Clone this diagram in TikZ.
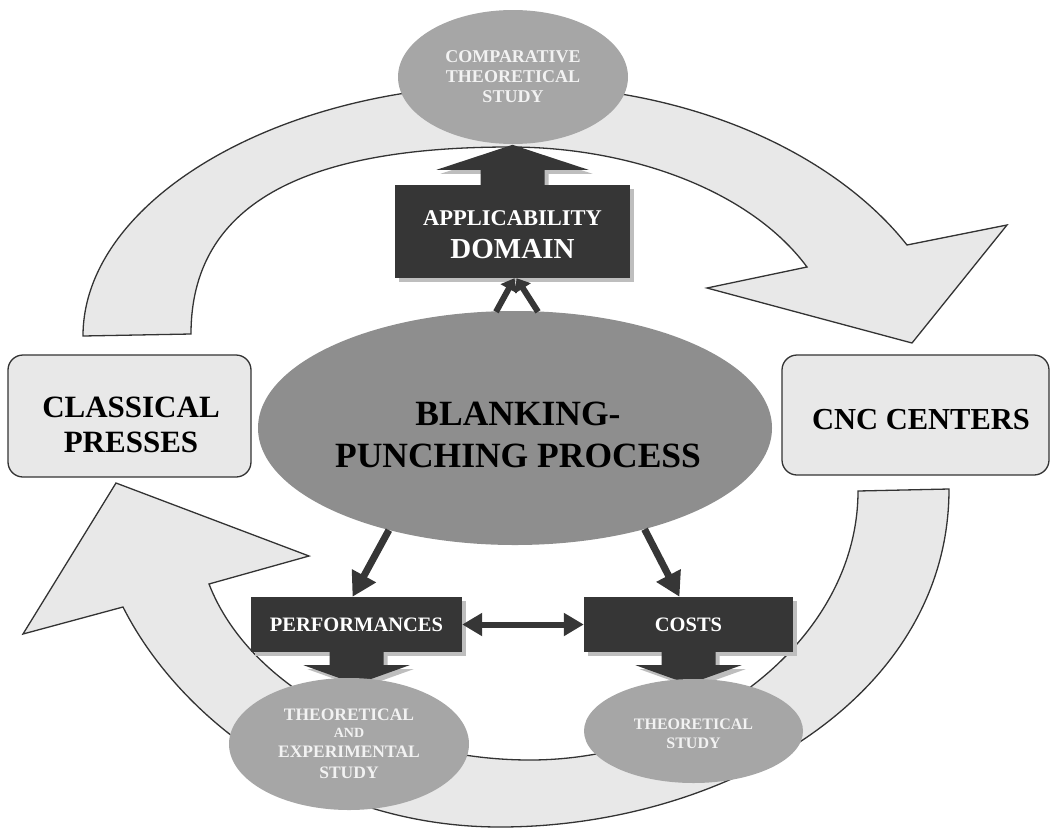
\documentclass[tikz,border=0pt]{standalone}
\usepackage{fontspec}
\setmainfont{Liberation Serif}
\usetikzlibrary{shapes.geometric,shadows,calc,arrows.meta}

\newlength{\du}
\setlength{\du}{1pt}

\definecolor{arcfill}{RGB}{232,232,232}
\definecolor{linecol}{RGB}{51,51,51}
\definecolor{mainfill}{RGB}{142,142,142}
\definecolor{ovalfill}{RGB}{166,166,166}
\definecolor{ovaltext}{RGB}{242,242,242}
\definecolor{darkfill}{RGB}{54,54,54}
\definecolor{shadowgray}{RGB}{190,190,190}

\tikzset{
  bigarc/.style={fill=arcfill, draw=linecol, line width=1.3\du, line join=miter},
  sidebox/.style={rectangle, rounded corners=15\du, fill=arcfill, draw=linecol, line width=1.3\du},
  sidetext/.style={inner sep=0pt, align=center, font=\bfseries\fontsize{31}{35}\selectfont},
  mainoval/.style={ellipse, fill=mainfill, inner sep=0pt, minimum width=514\du, minimum height=234\du},
  maintext/.style={inner sep=0pt, align=center, font=\bfseries\fontsize{35.5}{42}\selectfont},
  studyoval/.style={ellipse, fill=ovalfill, inner sep=0pt, text=ovaltext, align=center,
    font=\bfseries\fontsize{16}{19}\selectfont},
  darkbox/.style={rectangle, fill=darkfill, text=white, inner sep=0pt, align=center,
    font=\bfseries\fontsize{20.5}{24}\selectfont,
    drop shadow={shadow xshift=4\du, shadow yshift=-4\du, fill=shadowgray, opacity=1}},
  thickarrow/.style={draw=darkfill, line width=7\du, -{Triangle[length=24pt,width=26pt]}},
  thinarrow/.style={draw=darkfill, line width=6\du, -{Triangle[length=12pt,width=18pt]}},
  botharrow/.style={draw=darkfill, line width=6\du, {Triangle[length=20pt,width=22pt]}-{Triangle[length=20pt,width=22pt]}}
}

\begin{document}
\begin{tikzpicture}[x=\du, y=-\du]
\useasboundingbox (0,0) rectangle (1052,828);

% upper curved arrow
\filldraw[bigarc] (83,336) .. controls (83,200) and (280,85) .. (510,85)
  .. controls (700,85) and (840,160) .. (907,245)
  -- (1007,225) -- (912,343) -- (707,288) -- (807,267)
  .. controls (750,190) and (630,147) .. (510,147)
  .. controls (330,147) and (191,190) .. (191,334)
  -- cycle;

% lower curved arrow
\filldraw[bigarc] (949,489) .. controls (949,700) and (720,827) .. (500,827)
  .. controls (320,827) and (180,720) .. (123,607)
  -- (23,634) -- (116,483) -- (309,556) -- (209,584)
  .. controls (250,690) and (390,760) .. (530,760)
  .. controls (700,760) and (858,640) .. (858,491)
  -- cycle;

\node[sidebox, minimum width=243\du, minimum height=122\du] (presses) at (129.5,416) {};
\node[sidetext] (presseslabel) at (131,425) {CLASSICAL\\PRESSES};
\node[sidebox, minimum width=267\du, minimum height=120\du] (cnc) at (915.5,415) {};
\node[sidetext, font=\bfseries\fontsize{30.5}{35}\selectfont] (cnclabel) at (921,420) {CNC CENTERS};

\node[mainoval] (blank) at (515,428) {};
\node[maintext] (blanklabel) at (518,435) {BLANKING-\\PUNCHING PROCESS};

\node[darkbox, minimum width=235\du, minimum height=93\du] (domain) at (512.5,231.5) {};
\node[inner sep=0pt, align=center, text=white, font=\bfseries\fontsize{22.5}{33}\selectfont] (domainlabel) at (512.5,235) {APPLICABILITY\\{\fontsize{29}{33}\selectfont DOMAIN}};
\node[darkbox, minimum width=211\du, minimum height=55\du] (perf) at (356.5,624.5) {PERFORMANCES};
\node[darkbox, minimum width=209\du, minimum height=55\du] (costs) at (688.5,624.5) {COSTS};

% block arrows
\fill[shadowgray] ($(domain.north)+(4,4)$) +(-32,-4) -- +(-32,-15) -- +(-76,-15) -- +(0,-40) -- +(76,-15) -- +(32,-15) -- +(32,-4) -- cycle;
\fill[darkfill] (domain.north) +(-32,1) -- +(-32,-15) -- +(-76,-15) -- +(0,-40) -- +(76,-15) -- +(32,-15) -- +(32,1) -- cycle;
\fill[shadowgray] ($(perf.south)+(4,4)$) +(-27,0) -- +(-27,13) -- +(-53,13) -- +(0,32) -- +(53,13) -- +(27,13) -- +(27,0) -- cycle;
\fill[darkfill] (perf.south) +(-27,-1) -- +(-27,13) -- +(-53,13) -- +(0,32) -- +(53,13) -- +(27,13) -- +(27,-1) -- cycle;
\fill[shadowgray] ($(costs.south)+(4,4)$) +(-27,0) -- +(-27,13) -- +(-53,13) -- +(0,32) -- +(53,13) -- +(27,13) -- +(27,0) -- cycle;
\fill[darkfill] (costs.south) +(-27,-1) -- +(-27,13) -- +(-53,13) -- +(0,32) -- +(53,13) -- +(27,13) -- +(27,-1) -- cycle;

\node[studyoval, minimum width=230\du, minimum height=134\du, font=\bfseries\fontsize{18}{20}\selectfont] (compar) at (513,77) {COMPARATIVE\\THEORETICAL\\STUDY};
\node[studyoval, minimum width=240\du, minimum height=132\du, font=\bfseries\fontsize{17.5}{20}\selectfont] (experim) at (349,744) {THEORETICAL\\[-3\du]{\fontsize{14}{15}\selectfont AND}\\EXPERIMENTAL\\[1\du]STUDY};
\node[studyoval, minimum width=219\du, minimum height=104\du] (theor) at (693.5,731) {};
\node[inner sep=0pt, align=center, text=ovaltext, font=\bfseries\fontsize{16}{19}\selectfont] (theorlabel) at (693.5,734) {THEORETICAL\\STUDY};

% connectors
\draw[thinarrow] ($(blank.north)+(-19,1)$) -- ($(domain.south)+(2,0)$);
\draw[thinarrow] ($(blank.north)+(23,1)$) -- ($(domain.south)+(4,0)$);
\draw[thickarrow] (blank.-141) -- ($(perf.north)+(-4,0)$);
\draw[thickarrow] (blank.-38) -- ($(costs.north)+(-9,0)$);
\draw[botharrow] (perf.east) -- (costs.west);
\end{tikzpicture}
\end{document}
